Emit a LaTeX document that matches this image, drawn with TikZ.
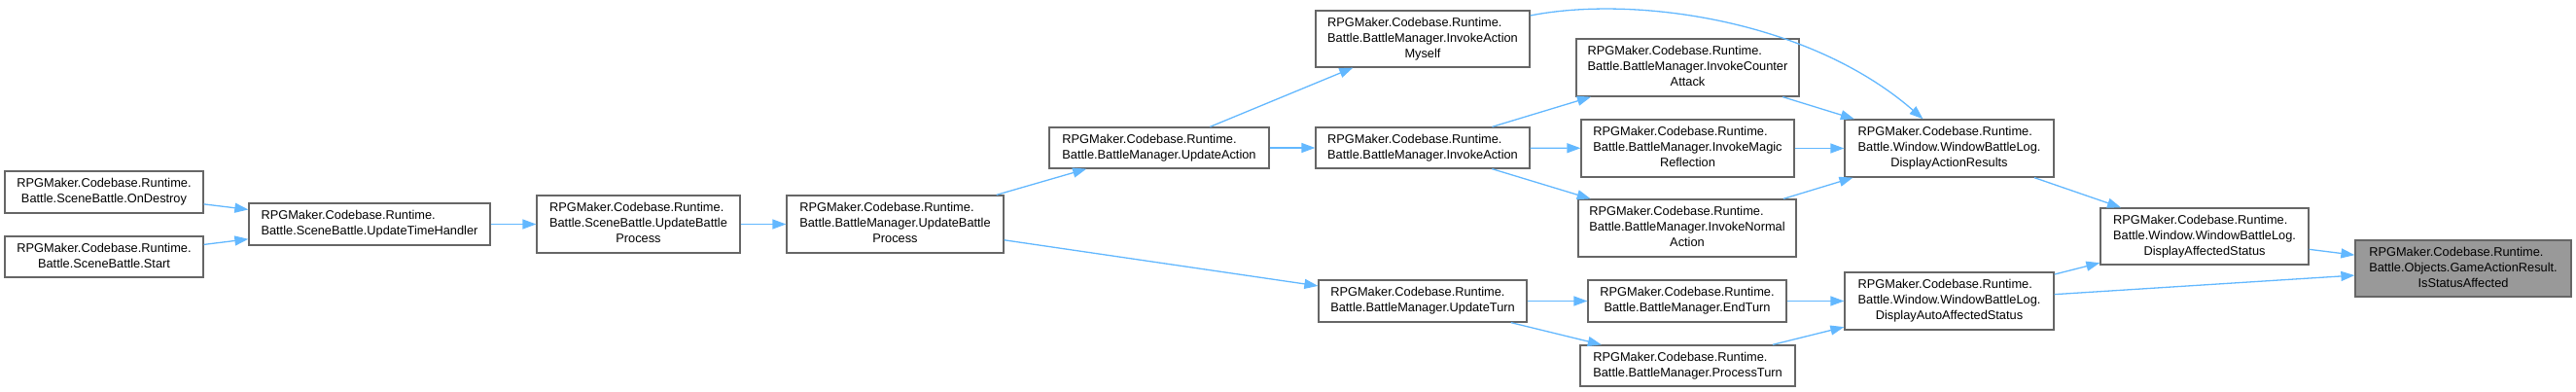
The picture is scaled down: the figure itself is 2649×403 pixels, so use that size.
\documentclass[tikz,border=0pt]{standalone}
\usepackage{fontspec}
\setmainfont{Liberation Sans}
\usetikzlibrary{arrows.meta}
\definecolor{edgeblue}{HTML}{63B8FF}
\definecolor{nodeborder}{HTML}{666666}
\definecolor{hlfill}{HTML}{999999}
\newcommand\lastline[1]{\multicolumn{1}{@{}c@{}}{#1}}
\newcommand\lbl[1]{\begin{tabular}{@{}l@{}}#1\end{tabular}}
\begin{document}
\begin{tikzpicture}[x=1pt,y=-1pt,
  fn/.style={draw=nodeborder, line width=1.3pt, fill=white, inner sep=0pt,
    font=\fontsize{12.8}{16}\selectfont},
  hl/.style={fn, fill=hlfill},
  call/.style={draw=edgeblue, line width=1.3pt, -{Triangle[length=14pt,width=10pt]}}]
\useasboundingbox (0,0) rectangle (2649,403);

\node[fn, minimum width=204pt, minimum height=43pt] (ondestroy) at (107,197.5)
  {\lbl{RPGMaker.Codebase.Runtime.\\\lastline{Battle.SceneBattle.OnDestroy}}};
\node[fn, minimum width=204pt, minimum height=42pt] (start) at (107,264)
  {\lbl{RPGMaker.Codebase.Runtime.\\\lastline{Battle.SceneBattle.Start}}};
\node[fn, minimum width=248pt, minimum height=43pt] (uth) at (380,230.5)
  {\lbl{RPGMaker.Codebase.Runtime.\\\lastline{Battle.SceneBattle.UpdateTimeHandler}}};
\node[fn, minimum width=209pt, minimum height=59pt] (sbubp) at (656.5,230.5)
  {\lbl{RPGMaker.Codebase.Runtime.\\Battle.SceneBattle.UpdateBattle\\\lastline{Process}}};
\node[fn, minimum width=223pt, minimum height=59pt] (bmubp) at (920.5,230.5)
  {\lbl{RPGMaker.Codebase.Runtime.\\Battle.BattleManager.UpdateBattle\\\lastline{Process}}};
\node[fn, minimum width=226pt, minimum height=42pt] (updateaction) at (1192,152)
  {\lbl{RPGMaker.Codebase.Runtime.\\\lastline{Battle.BattleManager.UpdateAction}}};
\node[fn, minimum width=220pt, minimum height=58pt] (myself) at (1463,40)
  {\lbl{RPGMaker.Codebase.Runtime.\\Battle.BattleManager.InvokeAction\\\lastline{Myself}}};
\node[fn, minimum width=220pt, minimum height=42pt] (invokeaction) at (1463,152)
  {\lbl{RPGMaker.Codebase.Runtime.\\\lastline{Battle.BattleManager.InvokeAction}}};
\node[fn, minimum width=214pt, minimum height=43pt] (updateturn) at (1463,309.5)
  {\lbl{RPGMaker.Codebase.Runtime.\\\lastline{Battle.BattleManager.UpdateTurn}}};
\node[fn, minimum width=229pt, minimum height=59pt] (counter) at (1735.5,69.5)
  {\lbl{RPGMaker.Codebase.Runtime.\\Battle.BattleManager.InvokeCounter\\\lastline{Attack}}};
\node[fn, minimum width=219pt, minimum height=59pt] (magic) at (1735.5,152.5)
  {\lbl{RPGMaker.Codebase.Runtime.\\Battle.BattleManager.InvokeMagic\\\lastline{Reflection}}};
\node[fn, minimum width=224pt, minimum height=59pt] (normal) at (1735,234.5)
  {\lbl{RPGMaker.Codebase.Runtime.\\Battle.BattleManager.InvokeNormal\\\lastline{Action}}};
\node[fn, minimum width=204pt, minimum height=43pt] (endturn) at (1735,309.5)
  {\lbl{RPGMaker.Codebase.Runtime.\\\lastline{Battle.BattleManager.EndTurn}}};
\node[fn, minimum width=221pt, minimum height=42pt] (processturn) at (1735.5,376)
  {\lbl{RPGMaker.Codebase.Runtime.\\\lastline{Battle.BattleManager.ProcessTurn}}};
\node[fn, minimum width=215pt, minimum height=59pt] (dar) at (2004.5,152.5)
  {\lbl{RPGMaker.Codebase.Runtime.\\Battle.Window.WindowBattleLog.\\\lastline{DisplayActionResults}}};
\node[fn, minimum width=215pt, minimum height=59pt] (daas) at (2004.5,309.5)
  {\lbl{RPGMaker.Codebase.Runtime.\\Battle.Window.WindowBattleLog.\\\lastline{DisplayAutoAffectedStatus}}};
\node[fn, minimum width=214pt, minimum height=58pt] (das) at (2267,243)
  {\lbl{RPGMaker.Codebase.Runtime.\\Battle.Window.WindowBattleLog.\\\lastline{DisplayAffectedStatus}}};
\node[hl, minimum width=222pt, minimum height=58pt] (isa) at (2533,276)
  {\lbl{RPGMaker.Codebase.Runtime.\\Battle.Objects.GameActionResult.\\\lastline{IsStatusAffected}}};

\draw[call] (ondestroy) -- (uth);
\draw[call] (start) -- (uth);
\draw[call] (uth) -- (sbubp);
\draw[call] (sbubp) -- (bmubp);
\draw[call] (bmubp) -- (updateaction);
\draw[call] (bmubp) -- (updateturn);
\draw[call] (updateaction) -- (myself);
\draw[call] (updateaction) -- (invokeaction);
\draw[call] (invokeaction) -- (counter);
\draw[call] (invokeaction) -- (magic);
\draw[call] (invokeaction) -- (normal);
\draw[call] ([yshift=24pt]myself.east) .. controls (1680,-5) and (1860,20) .. ([xshift=-27pt]dar.north);
\draw[call] (counter) -- (dar);
\draw[call] (magic) -- (dar);
\draw[call] (normal) -- (dar);
\draw[call] (updateturn) -- (endturn);
\draw[call] (updateturn) -- (processturn);
\draw[call] (endturn) -- (daas);
\draw[call] (processturn) -- (daas);
\draw[call] (dar) -- (das);
\draw[call] (daas) -- (das);
\draw[call] (daas) -- (isa);
\draw[call] (das) -- (isa);
\end{tikzpicture}
\end{document}
